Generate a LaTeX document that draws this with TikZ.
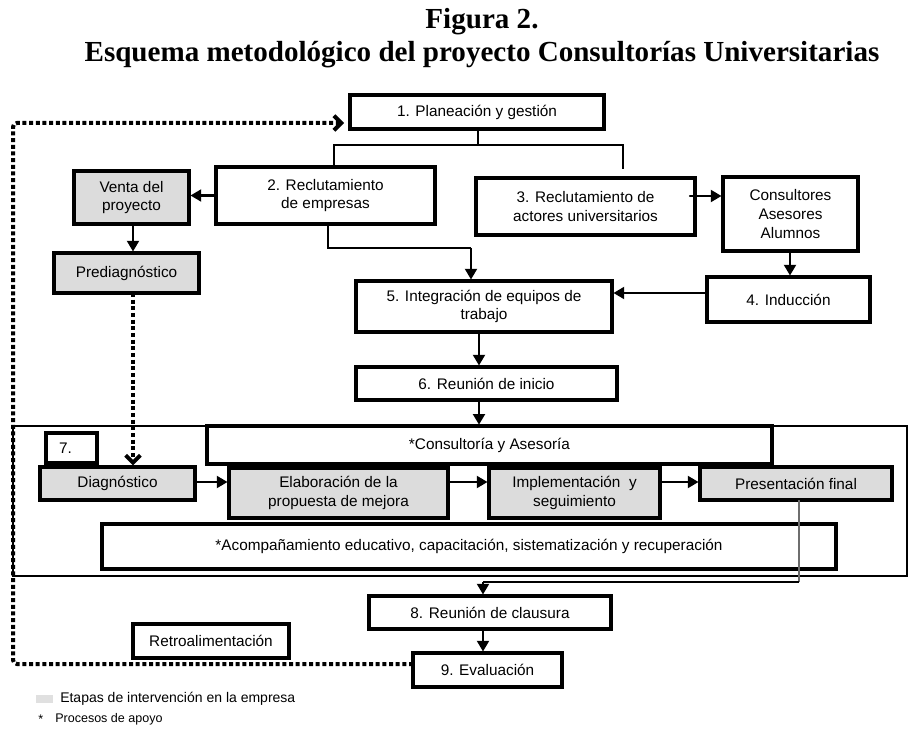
\documentclass[tikz,border=0pt]{standalone}
\usepackage{fontspec}
\setmainfont{Liberation Sans}
\newfontfamily\titlefont{Liberation Serif}
\usetikzlibrary{arrows.meta}

\definecolor{stagegray}{RGB}{220,220,220}
\definecolor{legendgray}{RGB}{224,224,224}
\definecolor{linkgray}{RGB}{110,110,110}

\tikzset{
  box/.style={draw, line width=2.3pt, fill=white, inner sep=0pt, align=center,
              font=\fontsize{11.5}{14}\selectfont},
  stagebox/.style={box, fill=stagegray},
  sz/.style 2 args={minimum width=#1*0.75pt, minimum height=#2*0.75pt},
  frame/.style={draw, line width=2pt, inner sep=0pt},
  arr/.style={line width=1.6pt, -{Triangle[length=8pt,width=9pt]}},
  thinline/.style={line width=0.8pt},
  feedback/.style={line width=3pt, dash pattern=on 3pt off 2pt,
                   -{Straight Barb[length=5.5pt,width=11pt,line width=3pt]}},
  titletext/.style={font=\titlefont\bfseries\fontsize{21.8}{26}\selectfont, anchor=base, inner sep=0pt}
}

\begin{document}
\begin{tikzpicture}[x=0.75pt,y=-0.75pt]
\useasboundingbox (0,0) rectangle (908,731);

% Title
\node[titletext] (t1) at (482,29) {Figura 2.};
\node[titletext] (t2) at (482,62) {Esquema metodológico del proyecto Consultorías Universitarias};

% Stage 7 frame
\node[frame, sz={894}{150}] (frame7) at (460,501) {};

% Boxes
\node[box, sz={254}{34}] (b1) at (477,112) {1. Planeación y gestión};
\node[box, sz={219}{57}] (b2) at (325.5,195.5) {2. Reclutamiento\\de empresas};
\node[stagebox, sz={115}{53}] (venta) at (131.5,197.5) {Venta del\\proyecto};
\node[stagebox, sz={145}{40}] (pred) at (126.5,273) {Prediagnóstico};
\node[box, sz={219}{57}] (b3) at (585.5,206.5) {3. Reclutamiento de\\actores universitarios};
\node[box, sz={135}{74}] (cons) at (790.5,214) {Consultores\\Asesores\\Alumnos};
\node[box, sz={163}{45}] (b4) at (788.5,299.5) {4. Inducción};
\node[box, sz={256}{51}] (b5) at (484,306.5) {5. Integración de equipos de\\trabajo};
\node[box, sz={261}{33}] (b6) at (486.5,383.5) {6. Reunión de inicio};

\node[box, sz={51}{30}] (seven) at (71.5,448) {7.\hspace{9pt}};
\node[box, sz={565}{38}] (consul) at (489.5,445) {*Consultoría y Asesoría};
\node[stagebox, sz={155}{33}] (diag) at (117.5,483.5) {Diagnóstico};
\node[stagebox, sz={219}{50}] (elab) at (338.5,493) {Elaboración de la\\propuesta de mejora};
\node[stagebox, sz={171}{50}] (impl) at (574.5,493) {Implementación\ \ y\\seguimiento};
\node[stagebox, sz={192}{33}] (pres) at (796,483.5) {Presentación final};
\node[box, sz={734}{45}] (acomp) at (469,546.5) {*Acompañamiento educativo, capacitación, sistematización y recuperación};

\node[box, sz={242}{33}] (b8) at (490,612.5) {8. Reunión de clausura};
\node[box, sz={149}{34}] (b9) at (487.5,670) {9. Evaluación};
\node[box, sz={156}{34}] (retro) at (211,641) {Retroalimentación};

% Branching from 1 to 2 and 3
\coordinate (j1) at (478,145);
\coordinate (j2) at (334,145);
\coordinate (j3) at (623,145);
\coordinate (j4) at (623,169);
\draw[thinline] (b1.south -| j1) -- (j1);
\draw[thinline] (j4) -- (j3) -- (j2) -- (j2 |- b2.north);

% Company branch
\draw[arr] (b2.west) -- (b2.west -| venta.east);
\coordinate (v1) at (133,224);
\draw[arr] (v1) -- (v1 |- pred.north);
\coordinate (k1) at (328,248);
\coordinate (k2) at (471,248);
\draw[thinline] (k1 |- b2.south) -- (k1) -- (k2);
\draw[arr] (k2) -- (k2 |- b5.north);

% University branch
\coordinate (r1) at (690,196);
\draw[arr, line cap=round] (r1) -- (r1 -| cons.west);
\coordinate (c1) at (790,251);
\draw[arr] (c1) -- (c1 |- b4.north);
\coordinate (i1) at (707,293);
\draw[arr] (i1) -- (i1 -| b5.east);

% Main sequence
\coordinate (m1) at (479,332);
\draw[arr] (m1) -- (m1 |- b6.north);
\coordinate (m2) at (479,400);
\draw[arr] (m2) -- (m2 |- frame7.north);

% Stage 7 sequence
\coordinate (s1) at (195,482);
\draw[arr] (s1) -- (s1 -| elab.west);
\coordinate (s2) at (448,482);
\draw[arr] (s2) -- (s2 -| impl.west);
\coordinate (s3) at (660,482);
\draw[arr] (s3) -- (s3 -| pres.west);

% From final presentation to closing meeting
\coordinate (p1) at (799,500);
\coordinate (p2) at (799,582);
\coordinate (p3) at (483,582);
\draw[thinline, linkgray] (p1) -- (p2);
\draw[thinline] (p2) -- (p3);
\draw[arr] (p3) -- (p3 |- b8.north);
\coordinate (e1) at (483,629);
\draw[arr] (e1) -- (e1 |- b9.north);

% Dotted links
\coordinate (d1) at (133,293);
\draw[feedback] (d1) -- (d1 |- diag.north);
\coordinate (f0) at (413,664);
\coordinate (f1) at (13,664);
\coordinate (f2) at (13,123);
\coordinate (f3) at (344,123);
\draw[feedback, rounded corners=3pt] (f0) -- (f1) -- (f2) -- (f3);

% Legend
\fill[legendgray] (36,695) rectangle (53,703);
\node[font=\fontsize{10.5}{12}\selectfont, inner sep=0pt, anchor=west] (leg1) at (60,699) {Etapas de intervención en la empresa};
\node[font=\fontsize{9.4}{12}\selectfont, inner sep=0pt, anchor=west] (leg2a) at (38,719) {*};
\node[font=\fontsize{9.4}{12}\selectfont, inner sep=0pt, anchor=west] (leg2) at (55,719) {Procesos de apoyo};
\end{tikzpicture}
\end{document}
